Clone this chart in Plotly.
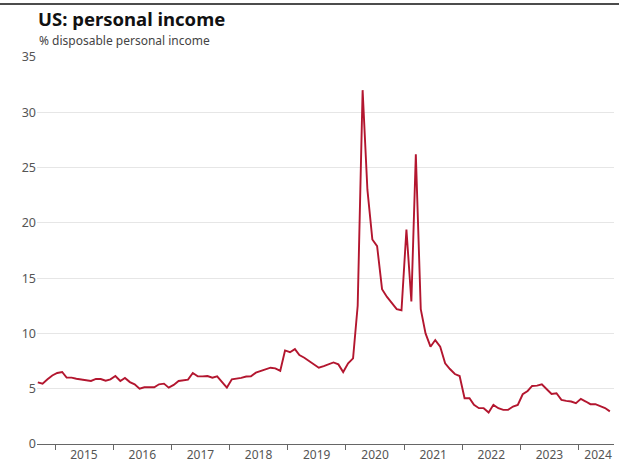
import pandas as pd
import plotly.graph_objects as go

# Monthly personal saving rate, Sep 2014 - Jul 2024 (% of disposable personal income)
start_month = "2014-09-01"
saving_rate = [
    5.58, 5.46, 5.85, 6.20,                                              # 2014 Sep-Dec
    6.42, 6.51, 6.00, 6.00, 5.90, 5.82, 5.72, 5.70, 5.88, 5.88, 5.73, 5.85,  # 2015
    6.15, 5.70, 5.97, 5.60, 5.40, 5.01, 5.13, 5.13, 5.13, 5.40, 5.46, 5.10,  # 2016
    5.34, 5.70, 5.73, 5.82, 6.42, 6.12, 6.12, 6.15, 6.00, 6.12, 5.60, 5.10,  # 2017
    5.85, 5.90, 5.98, 6.10, 6.12, 6.45, 6.60, 6.70, 6.90, 6.84, 6.62, 8.46,  # 2018
    8.30, 8.58, 8.04, 7.80, 7.50, 7.25, 6.90, 7.05, 7.20, 7.38, 7.20, 6.51,  # 2019
    7.30, 7.74, 12.5, 32.0, 23.0, 18.5, 17.9, 14.0, 13.3, 12.8, 12.2, 12.1,  # 2020
    19.4, 12.9, 26.2, 12.2, 10.0, 8.80, 9.40, 8.80, 7.29, 6.78, 6.33, 6.15,  # 2021
    4.14, 4.14, 3.54, 3.24, 3.24, 2.85, 3.54, 3.24, 3.09, 3.09, 3.39, 3.54,  # 2022
    4.50, 4.80, 5.25, 5.28, 5.40, 4.95, 4.53, 4.59, 3.99, 3.90, 3.84, 3.69,  # 2023
    4.08, 3.84, 3.60, 3.60, 3.45, 3.25, 2.95,                              # 2024
]
# each monthly observation is plotted at the middle of its month
months = pd.date_range(start_month, periods=len(saving_rate), freq="MS") + pd.Timedelta(days=14)

# Year labels sit in the middle of each (visible) year; tick marks at year starts
year_labels = ["2015", "2016", "2017", "2018", "2019", "2020", "2021", "2022", "2023", "2024"]
year_label_pos = [f"{y}-07-02" for y in year_labels[:-1]] + ["2024-05-02"]
y_ticks = [0, 5, 10, 15, 20, 25, 30, 35]

x_range = ["2014-09-10", "2024-08-10"]

font_family = "Noto Sans, Open Sans, sans-serif"
line_color = "#b3162f"

fig = go.Figure()
fig.add_trace(go.Scatter(
    x=months, y=saving_rate, mode="lines",
    line=dict(color=line_color, width=1.9),
    hoverinfo="x+y", showlegend=False,
))

fig.update_layout(
    width=619, height=464,
    margin=dict(l=37, r=5, t=57, b=20, autoexpand=False),
    paper_bgcolor="white", plot_bgcolor="white",
    font=dict(family=font_family, size=12, color="#555555"),
    xaxis=dict(
        type="date", range=x_range, automargin=False,
        tickmode="array", tickvals=year_label_pos, ticktext=year_labels,
        ticks="", showgrid=False, zeroline=False,
        showline=True, linecolor="#666666", linewidth=1,
        tickfont=dict(size=12, color="#555555"),
        minor=dict(tick0="2015-01-01", dtick="M12", ticks="outside",
                   ticklen=5, tickcolor="#666666", tickwidth=1, showgrid=False),
    ),
    yaxis=dict(
        range=[0, 35], tickmode="array", tickvals=y_ticks, automargin=False,
        showgrid=True, gridcolor="#e6e6e6", gridwidth=1,
        zeroline=False, showline=False, ticks="",
        tickfont=dict(size=12.5, color="#555555"),
    ),
    annotations=[
        dict(text="<b>US: personal income</b>", xref="paper", yref="paper",
             x=-0.001, y=1.0985, xanchor="left", yanchor="middle", showarrow=False,
             font=dict(family=font_family, size=18.5, color="#111111")),
        dict(text="% disposable personal income", xref="paper", yref="paper",
             x=0.0, y=1.042, xanchor="left", yanchor="middle", showarrow=False,
             font=dict(family=font_family, size=12, color="#444444")),
    ],
    shapes=[
        dict(type="line", xref="paper", yref="paper",
             x0=-0.07, x1=1.02, y0=1.137, y1=1.137,
             line=dict(color="#111111", width=1.5)),
    ],
)

fig.write_html("out.html")
